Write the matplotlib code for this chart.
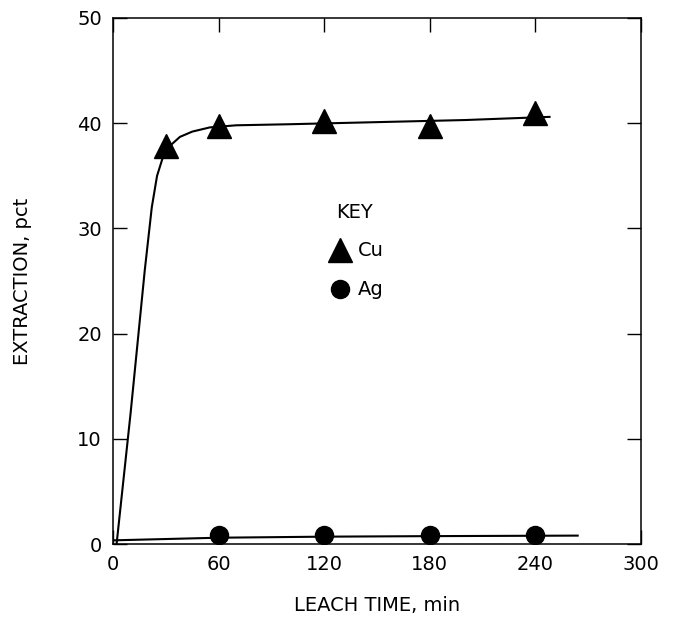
import matplotlib.pyplot as plt

# Puntos medidos
t_cu = [30, 60, 120, 180, 240]
cu = [37.8, 39.7, 40.2, 39.7, 41.0]
t_ag = [60, 120, 180, 240]
ag = [0.9, 0.9, 0.9, 0.9]

# Curvas ajustadas
t_cu_fit = [2, 10, 18, 22, 25, 28, 32, 38, 45, 55, 70, 100, 150, 200, 248]
cu_fit = [0, 12.5, 26, 32, 35, 36.6, 37.8, 38.7, 39.2, 39.6, 39.8, 39.9, 40.1, 40.3, 40.6]
t_ag_fit = [0, 60, 120, 180, 264]
ag_fit = [0.35, 0.6, 0.7, 0.75, 0.8]

xticks = [0, 60, 120, 180, 240, 300]
yticks = [0, 10, 20, 30, 40, 50]

plt.rcParams['font.family'] = 'DejaVu Sans'

fig = plt.figure(figsize=(6.73, 6.18), dpi=100)
ax = fig.add_axes([0.168, 0.1197, 0.7845, 0.8512])

ax.plot(t_cu_fit, cu_fit, 'k-', linewidth=1.5)
ax.plot(t_ag_fit, ag_fit, 'k-', linewidth=1.5)
ax.plot(t_cu, cu, 'k^', markersize=17, linestyle='none')
ax.plot(t_ag, ag, 'ko', markersize=13, linestyle='none')

ax.set_xlim(0, 300)
ax.set_ylim(0, 50)
ax.set_xticks(xticks)
ax.set_yticks(yticks)
ax.tick_params(direction='in', length=10, width=1, top=True, right=True,
               labelsize=14, pad=8)
for s in ax.spines.values():
    s.set_linewidth(1.1)

ax.set_xlabel('LEACH TIME, min', fontsize=14, va='center')
ax.set_ylabel('EXTRACTION, pct', fontsize=14, va='center')
ax.xaxis.set_label_coords(0.5, -0.116)
ax.yaxis.set_label_coords(-0.172, 0.5)

# Leyenda "KEY"
ax.text(137, 31.5, 'KEY', fontsize=14, ha='center', va='center')
ax.plot([129], [27.9], 'k^', markersize=17)
ax.text(139, 27.9, 'Cu', fontsize=14, ha='left', va='center')
ax.plot([129], [24.2], 'ko', markersize=13)
ax.text(139, 24.2, 'Ag', fontsize=14, ha='left', va='center')

plt.savefig('out.png', dpi=100)
